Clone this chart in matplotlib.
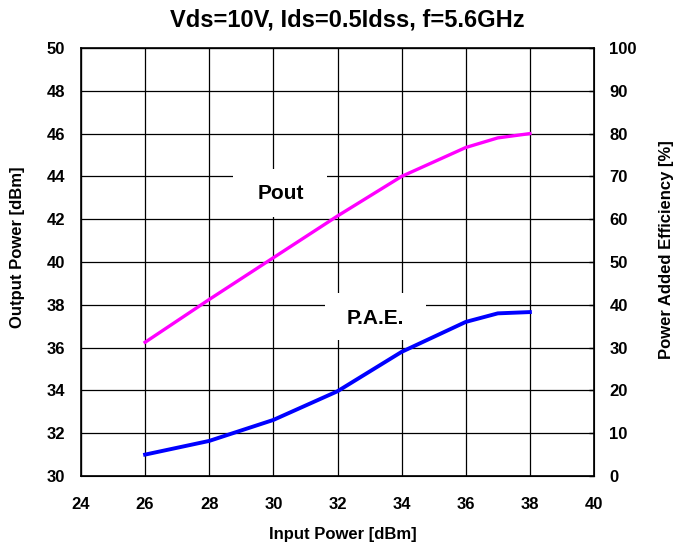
import matplotlib
matplotlib.use('Agg')
import matplotlib.pyplot as plt
from matplotlib.patches import Rectangle

plt.rcParams['font.family'] = ['Liberation Sans', 'DejaVu Sans']
plt.rcParams['font.weight'] = 'bold'

pin = [26, 28, 30, 32, 34, 36, 37, 38]
pout = [36.25, 38.25, 40.2, 42.15, 44.0, 45.35, 45.8, 46.0]
pae = [5.0, 8.2, 13.1, 19.8, 29.0, 36.0, 38.0, 38.3]

W, H = 676, 545
fig = plt.figure(figsize=(W / 100, H / 100), dpi=100)
ax = fig.add_axes([81 / W, 1 - 476 / H, 513 / W, 428 / H])

ax.set_xlim(24, 40)
ax.set_ylim(30, 50)
ax.set_xticks(range(24, 41, 2))
ax.set_yticks(range(30, 51, 2))
ax.grid(True, color='black', linewidth=0.9)
ax.set_axisbelow(True)
for s in ax.spines.values():
    s.set_linewidth(1.2)
ax.tick_params(axis='x', direction='in', length=0, labelsize=12, pad=15)
ax.tick_params(axis='y', direction='in', length=0, labelsize=12, pad=11.5)
for lab in ax.get_xticklabels() + ax.get_yticklabels():
    lab.set_fontweight('bold')

# white boxes behind the curve labels
ax.add_patch(Rectangle((28.74, 42.1), 2.93, 2.25, facecolor='white', edgecolor='none', zorder=2))
ax.add_patch(Rectangle((31.61, 36.36), 3.15, 2.19, facecolor='white', edgecolor='none', zorder=2))
ax.text(30.24, 43.22, 'Pout', fontsize=15, fontweight='bold', ha='center', va='center', zorder=3)
ax.text(33.17, 37.38, 'P.A.E.', fontsize=15, fontweight='bold', ha='center', va='center', zorder=3)

ax.plot(pin, pout, color='#ff00ff', linewidth=2.4, zorder=4)

ax2 = ax.twinx()
ax2.set_ylim(0, 100)
ax2.set_yticks(range(0, 101, 10))
ax2.tick_params(direction='in', length=3.6, width=1, labelsize=12, pad=11)
for lab in ax2.get_yticklabels():
    lab.set_fontweight('bold')
ax2.plot(pin, pae, color='#0000ff', linewidth=2.8, zorder=3)

fig.text(343 / W, 1 - 535 / H, 'Input Power [dBm]', fontsize=12, fontweight='bold',
         ha='center', va='center')
fig.text(18 / W, 1 - 247 / H, 'Output Power [dBm]', fontsize=12, fontweight='bold',
         ha='center', va='center', rotation=90)
fig.text(667 / W, 1 - 250 / H, 'Power Added Efficiency [%]', fontsize=12, fontweight='bold',
         ha='center', va='center', rotation=90)
fig.text(347 / W, 1 - 20 / H, 'Vds=10V, Ids=0.5Idss, f=5.6GHz', fontsize=17, fontweight='bold',
         ha='center', va='center')

fig.savefig('out.png', dpi=100)
